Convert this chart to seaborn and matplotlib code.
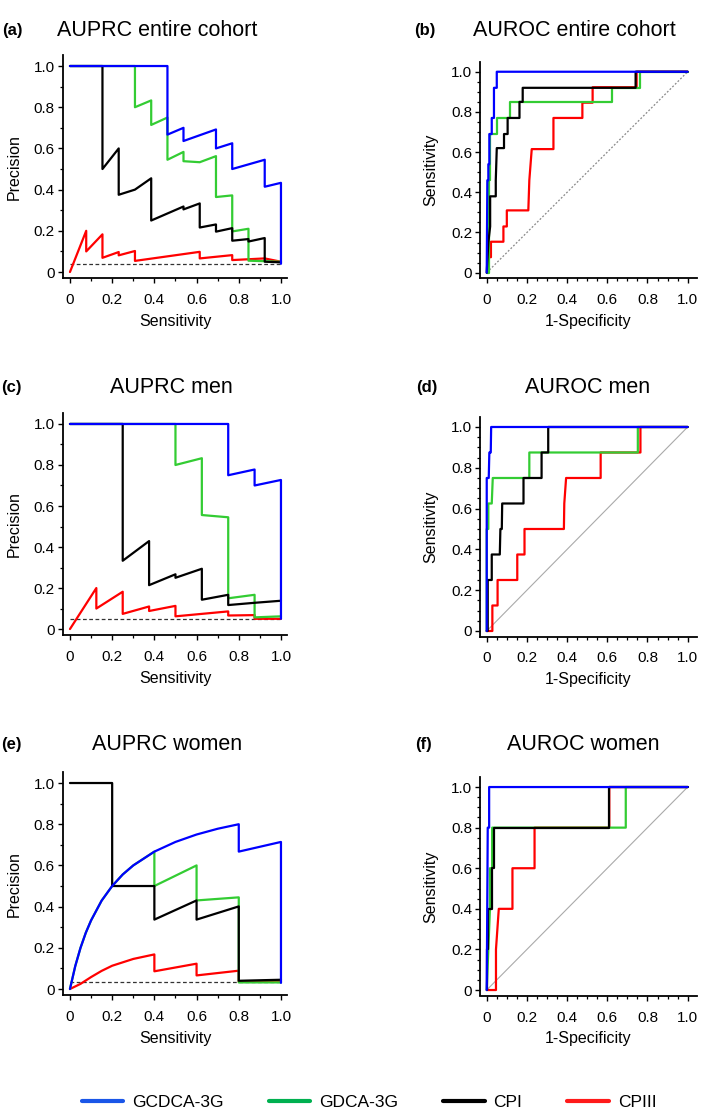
import numpy as np
import pandas as pd
import matplotlib
matplotlib.use("Agg")
import matplotlib.pyplot as plt
import seaborn as sns
from matplotlib.ticker import FixedLocator, FuncFormatter
from matplotlib.lines import Line2D

# ---------------- data ----------------
SERIES = ["GCDCA-3G", "GDCA-3G", "CPI", "CPIII"]
DRAW_ORDER = ["CPIII", "GDCA-3G", "CPI", "GCDCA-3G"]

# (a) AUPRC entire cohort
A_BLUE_X = [0, 0.462, 0.462, 0.538, 0.538, 0.692, 0.692, 0.769, 0.769, 0.923, 0.923, 1.0, 1.0]
A_BLUE_Y = [1.0, 1.0, 0.667, 0.70, 0.636, 0.692, 0.60, 0.625, 0.50, 0.545, 0.414, 0.433, 0.04]
A_GREEN_X = [0, 0.308, 0.308, 0.385, 0.385, 0.462, 0.462, 0.538, 0.538, 0.615, 0.692, 0.692, 0.769, 0.769, 0.846, 0.846, 1.0]
A_GREEN_Y = [1.0, 1.0, 0.80, 0.833, 0.714, 0.75, 0.545, 0.583, 0.538, 0.533, 0.5625, 0.364, 0.372, 0.197, 0.21, 0.055, 0.05]
A_BLACK_X = [0, 0.154, 0.154, 0.231, 0.231, 0.308, 0.385, 0.385, 0.538, 0.538, 0.615, 0.615, 0.692, 0.692, 0.769, 0.769, 0.846, 0.846, 0.923, 0.923, 1.0]
A_BLACK_Y = [1.0, 1.0, 0.50, 0.60, 0.375, 0.40, 0.455, 0.25, 0.318, 0.304, 0.333, 0.216, 0.231, 0.196, 0.213, 0.152, 0.16, 0.148, 0.165, 0.05, 0.047]
A_RED_X = [0, 0.077, 0.077, 0.154, 0.154, 0.231, 0.231, 0.308, 0.308, 0.615, 0.615, 0.769, 0.769, 0.923, 1.0]
A_RED_Y = [0, 0.20, 0.10, 0.183, 0.069, 0.097, 0.081, 0.102, 0.054, 0.098, 0.066, 0.082, 0.058, 0.066, 0.05]
A_BASE = 0.04

# (b) AUROC entire cohort
B_BLUE_X = [0, 0.003, 0.008, 0.008, 0.013, 0.013, 0.025, 0.025, 0.036, 0.036, 0.05, 0.05, 1.0]
B_BLUE_Y = [0, 0.46, 0.46, 0.54, 0.54, 0.69, 0.69, 0.77, 0.77, 0.92, 0.92, 1.0, 1.0]
B_GREEN_X = [0, 0.01, 0.01, 0.017, 0.017, 0.05, 0.05, 0.116, 0.116, 0.622, 0.622, 0.763, 0.763, 1.0]
B_GREEN_Y = [0, 0, 0.46, 0.46, 0.69, 0.69, 0.77, 0.77, 0.85, 0.85, 0.92, 0.92, 1.0, 1.0]
B_BLACK_X = [0, 0.008, 0.017, 0.017, 0.045, 0.045, 0.05, 0.086, 0.086, 0.104, 0.104, 0.163, 0.163, 0.179, 0.179, 0.741, 0.741, 1.0]
B_BLACK_Y = [0, 0.15, 0.23, 0.38, 0.38, 0.46, 0.62, 0.62, 0.69, 0.69, 0.77, 0.77, 0.85, 0.85, 0.92, 0.92, 1.0, 1.0]
B_RED_X = [0.005, 0.008, 0.008, 0.021, 0.021, 0.083, 0.083, 0.10, 0.10, 0.207, 0.212, 0.224, 0.332, 0.332, 0.476, 0.476, 0.527, 0.527, 0.746, 0.746, 1.0]
B_RED_Y = [0, 0, 0.077, 0.077, 0.154, 0.154, 0.23, 0.23, 0.31, 0.31, 0.46, 0.615, 0.615, 0.77, 0.77, 0.846, 0.846, 0.923, 0.923, 1.0, 1.0]

# (c) AUPRC men
C_BLUE_X = [0, 0.75, 0.75, 0.875, 0.875, 1.0, 1.0]
C_BLUE_Y = [1.0, 1.0, 0.75, 0.778, 0.70, 0.727, 0.05]
C_GREEN_X = [0, 0.5, 0.5, 0.625, 0.625, 0.75, 0.75, 0.875, 0.875, 1.0]
C_GREEN_Y = [1.0, 1.0, 0.80, 0.833, 0.556, 0.545, 0.15, 0.167, 0.057, 0.062]
C_BLACK_X = [0, 0.25, 0.25, 0.375, 0.375, 0.5, 0.5, 0.625, 0.625, 0.75, 0.75, 0.875, 1.0]
C_BLACK_Y = [1.0, 1.0, 0.333, 0.429, 0.214, 0.267, 0.25, 0.294, 0.143, 0.167, 0.117, 0.128, 0.138]
C_RED_X = [0, 0.125, 0.125, 0.25, 0.25, 0.375, 0.375, 0.5, 0.5, 0.75, 0.75, 0.875, 0.875, 1.0]
C_RED_Y = [0, 0.20, 0.10, 0.182, 0.074, 0.11, 0.088, 0.113, 0.062, 0.086, 0.066, 0.068, 0.05, 0.05]
C_BASE = 0.05

# (d) AUROC men
D_BLUE_X = [0, 0, 0.01, 0.013, 0.02, 0.022, 1.0]
D_BLUE_Y = [0, 0.75, 0.75, 0.875, 0.875, 1.0, 1.0]
D_GREEN_X = [0, 0, 0.008, 0.008, 0.025, 0.03, 0.212, 0.212, 0.752, 0.752, 1.0]
D_GREEN_Y = [0, 0.5, 0.5, 0.625, 0.625, 0.75, 0.75, 0.875, 0.875, 1.0, 1.0]
D_BLACK_X = [0, 0.005, 0.005, 0.025, 0.025, 0.065, 0.068, 0.075, 0.077, 0.183, 0.183, 0.273, 0.273, 0.306, 0.306, 1.0]
D_BLACK_Y = [0, 0, 0.25, 0.25, 0.375, 0.375, 0.5, 0.5, 0.625, 0.625, 0.75, 0.75, 0.875, 0.875, 1.0, 1.0]
D_RED_X = [0, 0.028, 0.028, 0.054, 0.054, 0.152, 0.152, 0.188, 0.188, 0.384, 0.386, 0.395, 0.567, 0.567, 0.765, 0.765, 1.0]
D_RED_Y = [0, 0, 0.125, 0.125, 0.25, 0.25, 0.375, 0.375, 0.5, 0.5, 0.625, 0.75, 0.75, 0.875, 0.875, 1.0, 1.0]

# (e) AUPRC women
E_BLUE_X = [0, 0.025, 0.05, 0.075, 0.1, 0.15, 0.2, 0.25, 0.3, 0.4, 0.5, 0.6, 0.7, 0.8, 0.8, 1.0, 1.0]
E_BLUE_Y = [0, 0.111, 0.2, 0.273, 0.333, 0.429, 0.5, 0.556, 0.6, 0.667, 0.714, 0.75, 0.778, 0.8, 0.667, 0.714, 0.03]
E_GREEN_X = [0, 0.025, 0.05, 0.075, 0.1, 0.15, 0.2, 0.25, 0.3, 0.4, 0.4, 0.6, 0.6, 0.8, 0.8, 1.0]
E_GREEN_Y = [0, 0.111, 0.2, 0.273, 0.333, 0.429, 0.5, 0.556, 0.6, 0.667, 0.5, 0.6, 0.43, 0.445, 0.032, 0.032]
E_BLACK_X = [0, 0.2, 0.2, 0.4, 0.4, 0.6, 0.6, 0.8, 0.8, 1.0]
E_BLACK_Y = [1.0, 1.0, 0.5, 0.5, 0.337, 0.43, 0.337, 0.401, 0.04, 0.045]
E_RED_X = [0, 0.05, 0.1, 0.15, 0.2, 0.3, 0.4, 0.4, 0.6, 0.6, 0.8, 0.8, 1.0]
E_RED_Y = [0, 0.025, 0.058, 0.088, 0.113, 0.146, 0.168, 0.086, 0.123, 0.066, 0.089, 0.035, 0.038]
E_BASE = 0.032

# (f) AUROC women
F_BLUE_X = [0, 0.005, 0.012, 0.012, 1.0]
F_BLUE_Y = [0, 0.8, 0.8, 1.0, 1.0]
F_GREEN_X = [0, 0.008, 0.016, 0.016, 0.027, 0.027, 0.692, 0.692, 1.0]
F_GREEN_Y = [0, 0.2, 0.4, 0.6, 0.6, 0.8, 0.8, 1.0, 1.0]
F_BLACK_X = [0, 0, 0.007, 0.007, 0.025, 0.025, 0.036, 0.036, 0.61, 0.61, 1.0]
F_BLACK_Y = [0, 0.2, 0.2, 0.4, 0.4, 0.6, 0.6, 0.8, 0.8, 1.0, 1.0]
F_RED_X = [0, 0.046, 0.046, 0.06, 0.128, 0.128, 0.238, 0.238, 0.61, 0.61, 1.0]
F_RED_Y = [0, 0, 0.2, 0.4, 0.4, 0.6, 0.6, 0.8, 0.8, 1.0, 1.0]

TITLES = ["AUPRC entire cohort", "AUROC entire cohort", "AUPRC men",
          "AUROC men", "AUPRC women", "AUROC women"]
LETTERS = ["(a)", "(b)", "(c)", "(d)", "(e)", "(f)"]

# ---------------- styling ----------------
sns.set_theme(style="ticks")
plt.rcParams['font.family'] = ['Liberation Sans', 'DejaVu Sans']
plt.rcParams['text.color'] = 'black'
plt.rcParams['axes.labelcolor'] = 'black'
plt.rcParams['xtick.color'] = 'black'
plt.rcParams['ytick.color'] = 'black'

COLORS = {"GCDCA-3G": "#0000ff", "GDCA-3G": "#33cc33", "CPI": "#000000", "CPIII": "#ff0000"}
LEG_COLORS = {"GCDCA-3G": "#1a56e8", "GDCA-3G": "#00b050", "CPI": "#000000", "CPIII": "#ff1a1a"}

W, H = 709, 1115
fig = plt.figure(figsize=(W / 100, H / 100), dpi=100)


def rect(left, top, right, bottom):
    return [left / W, 1 - bottom / H, (right - left) / W, (bottom - top) / H]


def make_df(blue, green, black, red):
    frames = []
    for name, (xs, ys) in zip(SERIES, [blue, green, black, red]):
        frames.append(pd.DataFrame({"x": xs, "y": ys, "series": name}))
    return pd.concat(frames, ignore_index=True)


panels = [
    dict(kind="pr", rect=rect(63.0, 55.1, 287.3, 278.2),
         df=make_df((A_BLUE_X, A_BLUE_Y), (A_GREEN_X, A_GREEN_Y), (A_BLACK_X, A_BLACK_Y), (A_RED_X, A_RED_Y)),
         base=A_BASE, title_xy=(157, 30), letter_xy=(12, 30)),
    dict(kind="roc", rect=rect(480.1, 62.1, 696.7, 278.1),
         df=make_df((B_BLUE_X, B_BLUE_Y), (B_GREEN_X, B_GREEN_Y), (B_BLACK_X, B_BLACK_Y), (B_RED_X, B_RED_Y)),
         diag="dotted", title_xy=(574, 30), letter_xy=(425, 30)),
    dict(kind="pr", rect=rect(63.0, 413.1, 287.3, 635.2),
         df=make_df((C_BLUE_X, C_BLUE_Y), (C_GREEN_X, C_GREEN_Y), (C_BLACK_X, C_BLACK_Y), (C_RED_X, C_RED_Y)),
         base=C_BASE, title_xy=(171, 388), letter_xy=(11, 388)),
    dict(kind="roc", rect=rect(480.1, 417.2, 696.7, 636.5),
         df=make_df((D_BLUE_X, D_BLUE_Y), (D_GREEN_X, D_GREEN_Y), (D_BLACK_X, D_BLACK_Y), (D_RED_X, D_RED_Y)),
         diag="solid", title_xy=(588, 388), letter_xy=(427, 388)),
    dict(kind="pr", rect=rect(63.0, 772.1, 287.3, 995.2),
         df=make_df((E_BLUE_X, E_BLUE_Y), (E_GREEN_X, E_GREEN_Y), (E_BLACK_X, E_BLACK_Y), (E_RED_X, E_RED_Y)),
         base=E_BASE, title_xy=(167, 745), letter_xy=(11, 745)),
    dict(kind="roc", rect=rect(480.1, 777.3, 696.7, 995.5),
         df=make_df((F_BLUE_X, F_BLUE_Y), (F_GREEN_X, F_GREEN_Y), (F_BLACK_X, F_BLACK_Y), (F_RED_X, F_RED_Y)),
         diag="solid", title_xy=(583, 745), letter_xy=(423, 745)),
]

fmt = FuncFormatter(lambda v, p: "0" if abs(v) < 1e-9 else f"{v:.1f}")
MAJOR = [0, 0.2, 0.4, 0.6, 0.8, 1.0]

for i, p in enumerate(panels):
    ax = fig.add_axes(p["rect"])
    if p["kind"] == "pr":
        ax.plot([0, 1], [p["base"], p["base"]], color="#333333", lw=0.9,
                dashes=(3, 2), zorder=1)
    else:
        if p["diag"] == "dotted":
            ax.plot([0, 1], [0, 1], color="#888888", lw=0.9, dashes=(1.5, 1.5), zorder=1)
        else:
            ax.plot([0, 1], [0, 1], color="#aaaaaa", lw=0.8, zorder=1)

    sns.lineplot(data=p["df"], x="x", y="y", hue="series", hue_order=DRAW_ORDER,
                 palette=COLORS, sort=False, estimator=None, lw=1.6,
                 legend=False, ax=ax, zorder=3)

    if p["kind"] == "pr":
        ax.set_xlim(-0.033, 1.03)
        ax.set_ylim(-0.03, 1.053)
        minor = [0.1, 0.3, 0.5, 0.7, 0.9]
        ax.set_xlabel("Sensitivity", fontsize=11.5, labelpad=5)
        ax.set_ylabel("Precision", fontsize=11.5, labelpad=9)
    else:
        ax.set_xlim(-0.033, 1.045)
        ax.set_ylim(-0.027, 1.048)
        minor = [v / 20 for v in range(21) if v % 4 != 0]
        ax.set_xlabel("1-Specificity", fontsize=11.5, labelpad=5)
        ax.set_ylabel("Sensitivity", fontsize=11.5, labelpad=9)

    for axis in (ax.xaxis, ax.yaxis):
        axis.set_major_locator(FixedLocator(MAJOR))
        axis.set_minor_locator(FixedLocator(minor))
        axis.set_major_formatter(fmt)

    sns.despine(ax=ax)
    for s in ("left", "bottom"):
        ax.spines[s].set_linewidth(1.3)
        ax.spines[s].set_color("black")
    ax.tick_params(which="major", length=3.8, width=1.0, color="black",
                   labelsize=11, labelcolor="black")
    ax.tick_params(which="minor", length=2.2, width=0.9, color="black")
    ax.tick_params(axis="x", which="major", pad=7)
    ax.tick_params(axis="y", which="major", pad=2)
    ax.set_facecolor("white")

    tx, ty = p["title_xy"]
    fig.text(tx / W, 1 - ty / H, TITLES[i], fontsize=15.5, ha="center", va="center",
             color="black")
    lx, ly = p["letter_xy"]
    fig.text(lx / W, 1 - ly / H, LETTERS[i], fontsize=12, fontweight="bold",
             ha="center", va="center", color="black")

handles = [Line2D([0], [0], color=LEG_COLORS[s], lw=3) for s in SERIES]
leg = fig.legend(handles, SERIES, loc="center", bbox_to_anchor=(369 / W, 1 - 1102 / H),
                 ncol=4, frameon=False, fontsize=12.5, handlelength=2.4,
                 handletextpad=0.5, columnspacing=2.6)
for t in leg.get_texts():
    t.set_color("black")

fig.savefig("out.png", dpi=100, facecolor="white")
